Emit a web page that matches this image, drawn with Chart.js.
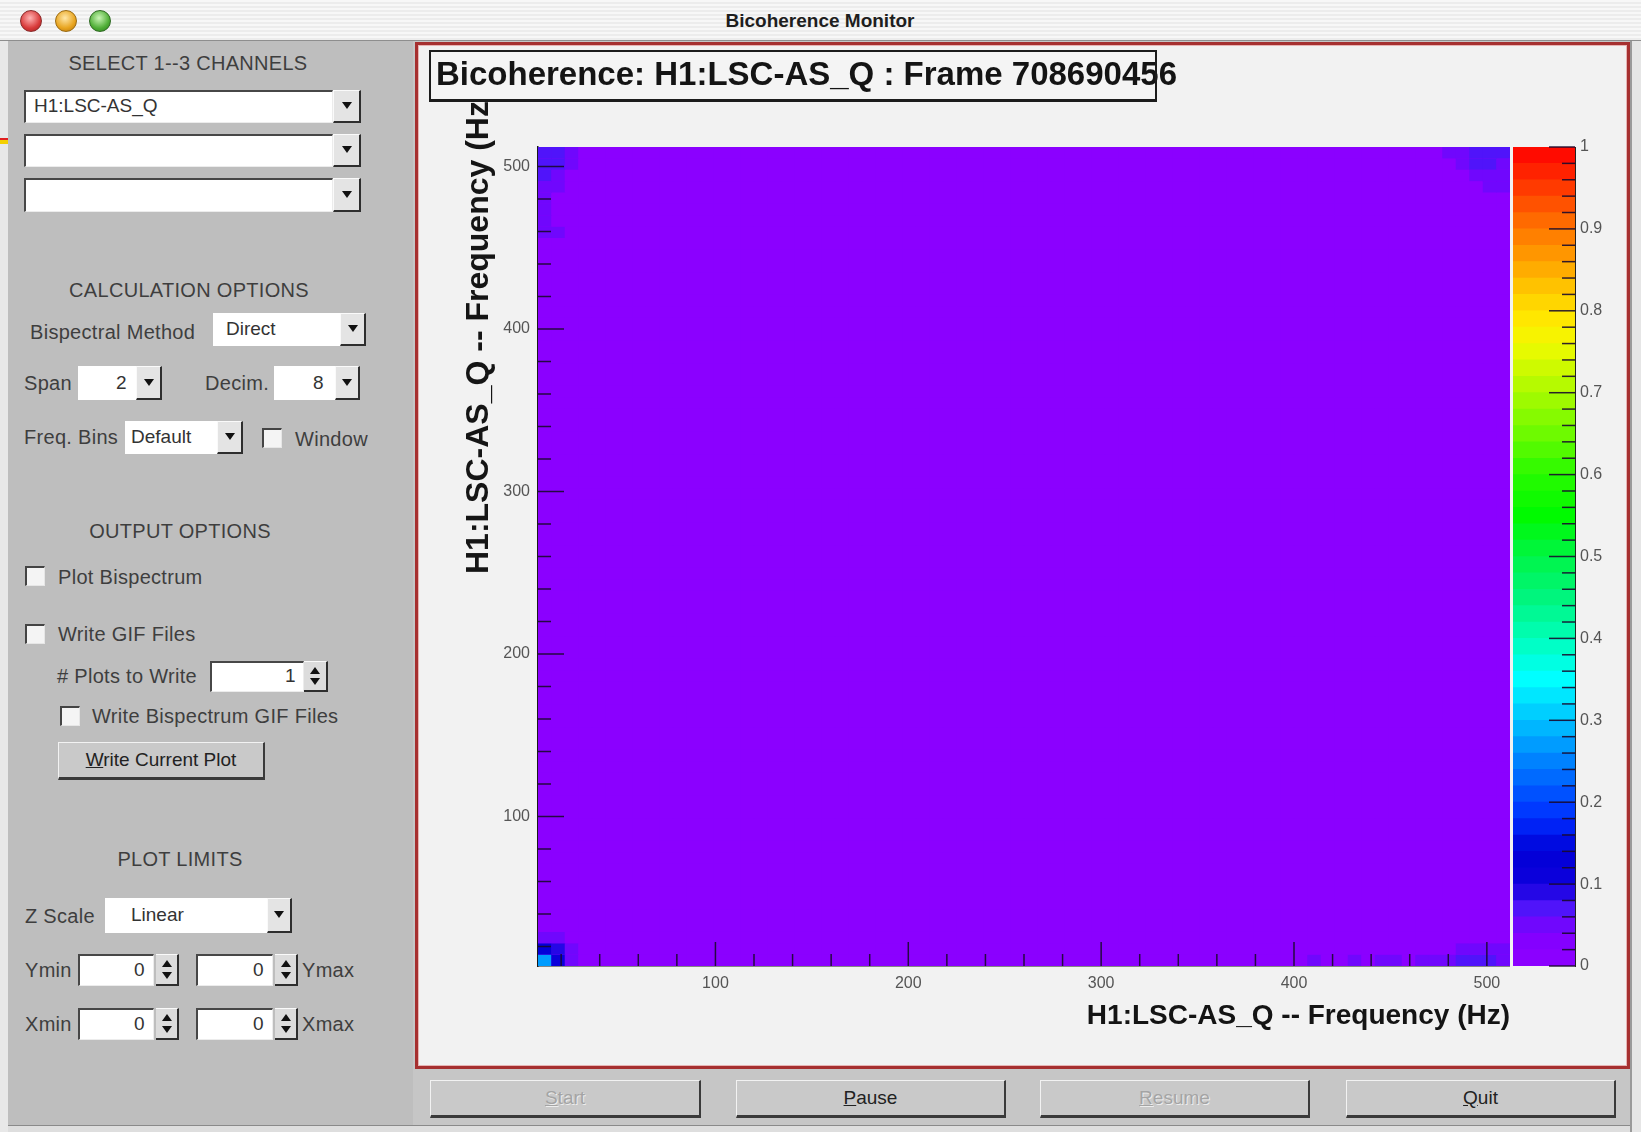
<!DOCTYPE html>
<html>
<head>
<meta charset="utf-8">
<title>Bicoherence Monitor</title>
<script src="https://cdn.jsdelivr.net/npm/chart.js@4.4.1/dist/chart.umd.min.js"></script>
<style>
  body { margin:0; width:1641px; height:1132px; overflow:hidden; position:relative;
         background:#c6c6c6; font-family:"Liberation Sans", Arial, sans-serif; }
  .abs { position:absolute; }
  .t { position:absolute; font-size:20px; line-height:20px; color:#3e3e3e; letter-spacing:.3px; white-space:nowrap; }
  .ctr { transform:translateX(-50%); }
  .fld { position:absolute; box-sizing:border-box; background:#fff;
         border-top:2px solid #474747; border-left:2px solid #474747;
         border-right:1px solid #ececec; border-bottom:1px solid #ececec; }
  .drp { position:absolute; box-sizing:border-box; background:#e4e4e4;
         border-top:1px solid #fafafa; border-left:1px solid #fafafa;
         border-right:2px solid #2e2e2e; border-bottom:2px solid #2e2e2e; }
  .drp::after { content:""; position:absolute; left:50%; top:50%; margin-left:-5px; margin-top:-4px;
         border-left:5px solid transparent; border-right:5px solid transparent; border-top:7px solid #111; }
  .spn { position:absolute; box-sizing:border-box; background:#dcdcdc;
         border-right:2px solid #2e2e2e; border-bottom:2px solid #2e2e2e; border-top:1px solid #fafafa; }
  .spn::before { content:""; position:absolute; left:50%; top:5px; margin-left:-5px;
         border-left:5px solid transparent; border-right:5px solid transparent; border-bottom:7px solid #111; }
  .spn::after { content:""; position:absolute; left:50%; bottom:5px; margin-left:-5px;
         border-left:5px solid transparent; border-right:5px solid transparent; border-top:7px solid #111; }
  .chk { position:absolute; box-sizing:border-box; width:20px; height:20px; background:#f4f4f4;
         border-top:2px solid #444; border-left:2px solid #444; border-right:1px solid #e6e6e6; border-bottom:1px solid #e6e6e6; }
  .val { position:absolute; font-size:19px; line-height:20px; color:#333; }
  .btn { position:absolute; box-sizing:border-box; background:#c9c9c9; text-align:center;
         border-top:1px solid #f2f2f2; border-left:1px solid #f2f2f2;
         border-right:2px solid #3a3a3a; border-bottom:3px solid #3a3a3a;
         font-size:19px; color:#222; }
  .btn.off { color:#a4a4a4; text-shadow:1px 1px 0 #ededed; }
  .light { position:absolute; width:22px; height:22px; border-radius:50%; top:10px; box-sizing:border-box; }
  canvas { position:absolute; }
</style>
</head>
<body>

<!-- window chrome -->
<div class="abs" style="left:0;top:0;width:1641px;height:40px;border-bottom:1px solid #8e8e8e;
     background:repeating-linear-gradient(#f7f7f7 0 2px,#ececec 2px 4px);"></div>
<div class="light" style="left:20px;background:radial-gradient(circle at 45% 35%,#ffb3b3,#d83a3a 60%,#a01e1e);border:1px solid #8a2a2a"></div>
<div class="light" style="left:55px;background:radial-gradient(circle at 45% 35%,#ffe7a8,#e8a41e 60%,#b07010);border:1px solid #9a6a10"></div>
<div class="light" style="left:89px;background:radial-gradient(circle at 45% 35%,#c9f5b5,#4fae36 60%,#2c7a1c);border:1px solid #2e6a22"></div>
<div class="t ctr" style="left:820px;top:11px;font-weight:bold;font-size:19px;color:#1e1e1e;letter-spacing:0">Bicoherence Monitor</div>

<div class="abs" style="left:0;top:41px;width:8px;height:1091px;background:#e8e8e8"></div>
<div class="abs" style="left:0;top:138px;width:8px;height:2px;background:#e02020"></div>
<div class="abs" style="left:0;top:140px;width:8px;height:4px;background:#f4d000"></div>
<div class="abs" style="left:1630px;top:41px;width:11px;height:1091px;background:#e6e6e6;border-left:2px solid #9a9a9a"></div>
<div class="abs" style="left:8px;top:1125px;width:1622px;height:7px;background:#dedede;border-top:1px solid #8a8a8a"></div>

<!-- left control panel -->
<div class="abs" style="left:8px;top:41px;width:405px;height:1084px;background:#bebebe"></div>

<div class="t ctr" style="left:188px;top:53px">SELECT 1--3 CHANNELS</div>
<div class="fld" style="left:24px;top:90px;width:309px;height:33px"></div>
<div class="drp" style="left:333px;top:90px;width:28px;height:33px"></div>
<div class="val" style="left:34px;top:96px">H1:LSC-AS_Q</div>
<div class="fld" style="left:24px;top:134px;width:309px;height:33px"></div>
<div class="drp" style="left:333px;top:134px;width:28px;height:33px"></div>
<div class="fld" style="left:24px;top:178px;width:309px;height:34px"></div>
<div class="drp" style="left:333px;top:178px;width:28px;height:34px"></div>

<div class="t ctr" style="left:189px;top:280px">CALCULATION OPTIONS</div>
<div class="t" style="left:30px;top:322px">Bispectral Method</div>
<div class="fld" style="left:213px;top:313px;width:127px;height:33px;border:none"></div>
<div class="drp" style="left:340px;top:313px;width:26px;height:33px"></div>
<div class="val" style="left:226px;top:319px">Direct</div>

<div class="t" style="left:24px;top:373px">Span</div>
<div class="fld" style="left:78px;top:366px;width:58px;height:34px;border:none"></div>
<div class="drp" style="left:136px;top:366px;width:26px;height:34px"></div>
<div class="val" style="left:116px;top:373px">2</div>
<div class="t" style="left:205px;top:373px">Decim.</div>
<div class="fld" style="left:274px;top:366px;width:61px;height:34px;border:none"></div>
<div class="drp" style="left:335px;top:366px;width:25px;height:34px"></div>
<div class="val" style="left:313px;top:373px">8</div>

<div class="t" style="left:24px;top:427px">Freq. Bins</div>
<div class="fld" style="left:125px;top:421px;width:92px;height:33px;border:none"></div>
<div class="drp" style="left:217px;top:421px;width:26px;height:33px"></div>
<div class="val" style="left:131px;top:427px">Default</div>
<div class="chk" style="left:262px;top:428px"></div>
<div class="t" style="left:295px;top:429px">Window</div>

<div class="t ctr" style="left:180px;top:521px">OUTPUT OPTIONS</div>
<div class="chk" style="left:25px;top:566px"></div>
<div class="t" style="left:58px;top:567px">Plot Bispectrum</div>
<div class="chk" style="left:25px;top:624px"></div>
<div class="t" style="left:58px;top:624px">Write GIF Files</div>
<div class="t" style="left:57px;top:666px"># Plots to Write</div>
<div class="fld" style="left:210px;top:661px;width:94px;height:31px"></div>
<div class="spn" style="left:304px;top:661px;width:24px;height:31px"></div>
<div class="val" style="left:285px;top:666px">1</div>
<div class="chk" style="left:60px;top:706px"></div>
<div class="t" style="left:92px;top:706px">Write Bispectrum GIF Files</div>
<div class="btn" style="left:58px;top:742px;width:207px;height:38px;line-height:33px"><u>W</u>rite Current Plot</div>

<div class="t ctr" style="left:180px;top:849px">PLOT LIMITS</div>
<div class="t" style="left:25px;top:906px">Z Scale</div>
<div class="fld" style="left:105px;top:898px;width:162px;height:35px;border:none"></div>
<div class="drp" style="left:267px;top:898px;width:25px;height:35px"></div>
<div class="val" style="left:131px;top:905px">Linear</div>

<div class="t" style="left:25px;top:960px">Ymin</div>
<div class="fld" style="left:78px;top:954px;width:76px;height:32px"></div>
<div class="spn" style="left:156px;top:954px;width:23px;height:32px"></div>
<div class="val" style="left:134px;top:960px">0</div>
<div class="fld" style="left:196px;top:954px;width:77px;height:32px"></div>
<div class="spn" style="left:275px;top:954px;width:23px;height:32px"></div>
<div class="val" style="left:253px;top:960px">0</div>
<div class="t" style="left:302px;top:960px">Ymax</div>

<div class="t" style="left:25px;top:1014px">Xmin</div>
<div class="fld" style="left:78px;top:1008px;width:76px;height:32px"></div>
<div class="spn" style="left:156px;top:1008px;width:23px;height:32px"></div>
<div class="val" style="left:134px;top:1014px">0</div>
<div class="fld" style="left:196px;top:1008px;width:77px;height:32px"></div>
<div class="spn" style="left:275px;top:1008px;width:23px;height:32px"></div>
<div class="val" style="left:253px;top:1014px">0</div>
<div class="t" style="left:302px;top:1014px">Xmax</div>

<!-- plot frame -->
<div class="abs" style="left:415px;top:42px;width:1215px;height:1027px;box-sizing:border-box;
     background:#f2f2f2;border:3px solid #a63030;box-shadow:inset 0 0 0 1px #e7b4b4;z-index:1"></div>

<canvas id="bicoh" width="1092" height="960" style="left:418px;top:104px;z-index:2"></canvas>
<canvas id="zbar" width="110" height="960" style="left:1513px;top:104px;z-index:2"></canvas>

<div class="abs" style="left:461px;top:574px;transform-origin:0 0;transform:rotate(-90deg);
     font-weight:bold;font-size:32px;line-height:32px;color:#151515;white-space:nowrap;z-index:3">H1:LSC-AS_Q -- Frequency (Hz)</div>
<div class="abs" style="left:429px;top:50px;width:728px;height:52px;box-sizing:border-box;
     border:2px solid #1c1c1c;border-bottom-width:3px;background:#f4f4f4;z-index:4"></div>
<div class="abs" style="left:436px;top:57px;font-weight:bold;font-size:33px;line-height:33px;color:#141414;white-space:nowrap;z-index:5">Bicoherence: H1:LSC-AS_Q : Frame 708690456</div>
<div class="abs" style="left:1155px;top:50px;width:2px;height:52px;background:#1c1c1c;z-index:6"></div>

<!-- control buttons -->
<div class="btn off" style="left:430px;top:1080px;width:271px;height:38px;line-height:33px"><u>S</u>tart</div>
<div class="btn" style="left:736px;top:1080px;width:270px;height:38px;line-height:33px"><u>P</u>ause</div>
<div class="btn off" style="left:1040px;top:1080px;width:270px;height:38px;line-height:33px"><u>R</u>esume</div>
<div class="btn" style="left:1346px;top:1080px;width:270px;height:38px;line-height:33px"><u>Q</u>uit</div>

<script>
// ---- data ----
// both axes: frequency of the same channel, binned in 7 Hz steps from 8 to 512 Hz
const freqMin = 8;
const freqMax = 512;
const binHz = 7;
const freqTicks = [100, 200, 300, 400, 500];
const zTicks = [0, 0.1, 0.2, 0.3, 0.4, 0.5, 0.6, 0.7, 0.8, 0.9, 1];

// bicoherence sits on a flat floor; only a few bins near the corners rise above it
const floorLevel = 0.012;
const hotBinX = [0, 1, 0, 1, 2, 0, 2, 1,
                 0, 1, 0, 1, 0, 1, 0, 1, 2, 2, 0, 0, 0, 0, 1,
                 67, 68, 69, 70, 71, 68, 69, 70, 71, 69, 70, 71, 70, 71,
                 57, 60, 62, 63, 65, 66, 67, 68, 69, 70, 71, 68, 69, 70, 71];
const hotBinY = [0, 0, 1, 1, 0, 2, 1, 2,
                 71, 71, 70, 70, 69, 69, 68, 68, 71, 70, 67, 66, 65, 64, 64,
                 71, 71, 71, 71, 71, 70, 70, 70, 70, 69, 69, 69, 68, 68,
                 0, 0, 0, 0, 0, 0, 0, 0, 0, 0, 0, 1, 1, 1, 1];
const hotLevel = [0.26, 0.11, 0.12, 0.09, 0.05, 0.05, 0.05, 0.045,
                  0.065, 0.06, 0.065, 0.06, 0.065, 0.055, 0.055, 0.05, 0.045, 0.045, 0.045, 0.042, 0.045, 0.042, 0.042,
                  0.045, 0.055, 0.065, 0.065, 0.06, 0.05, 0.065, 0.065, 0.055, 0.05, 0.055, 0.05, 0.045, 0.045,
                  0.042, 0.042, 0.042, 0.045, 0.045, 0.045, 0.055, 0.06, 0.065, 0.06, 0.055, 0.05, 0.05, 0.05, 0.045];

// ---- rainbow palette (violet -> blue -> cyan -> green -> yellow -> red) ----
const paletteStops = [
    [0.00, 142, 0, 255], [0.04, 128, 0, 255], [0.07, 80, 20, 250], [0.10, 15, 0, 220],
    [0.14, 0, 0, 215], [0.18, 0, 45, 255], [0.25, 0, 130, 255], [0.30, 0, 195, 255],
    [0.35, 0, 255, 255], [0.40, 0, 255, 185], [0.45, 0, 245, 125], [0.50, 0, 245, 70],
    [0.55, 0, 250, 0], [0.60, 40, 250, 0], [0.65, 110, 250, 0], [0.70, 170, 250, 0],
    [0.75, 230, 250, 0], [0.78, 255, 240, 0], [0.82, 255, 205, 0], [0.87, 255, 150, 0],
    [0.92, 255, 95, 0], [0.96, 255, 45, 0], [1.00, 255, 0, 0]
];
const nLevels = 50;

function paletteAt(t){
    for (let k = 1; k < paletteStops.length; k++) {
        const a = paletteStops[k - 1], b = paletteStops[k];
        if (t <= b[0]) {
            const f = (t - a[0]) / (b[0] - a[0]);
            return "rgb(" + [1, 2, 3].map(c => Math.round(a[c] + (b[c] - a[c]) * f)).join(",") + ")";
        }
    }
    return "rgb(255,0,0)";
}

function zColor(v){
    const level = Math.max(0, Math.min(nLevels - 1, Math.floor(v * nLevels)));
    return paletteAt((level + 0.5) / nLevels);
}

// ---- build the bin table ----
const nBins = Math.round((freqMax - freqMin) / binHz);
const grid = [];
for (let j = 0; j < nBins; j++) {
    grid.push(new Array(nBins).fill(floorLevel));
}
hotBinX.forEach((ix, k) => { grid[hotBinY[k]][ix] = hotLevel[k]; });

const cells = [];
for (let j = 0; j < nBins; j++) {
    for (let i = 0; i < nBins; i++) {
        cells.push({
            x: freqMin + (i + 0.5) * binHz,
            y: [freqMin + j * binHz, freqMin + (j + 1) * binHz],
            v: grid[j][i]
        });
    }
}

// frame fill in the floor colour so anti-aliased cell seams do not show
const frameFill = {
    id: "frameFill",
    beforeDatasetsDraw(chart){
        const {ctx, chartArea: a} = chart;
        ctx.save();
        ctx.fillStyle = zColor(floorLevel);
        ctx.fillRect(a.left, a.top, a.right - a.left, a.bottom - a.top);
        ctx.restore();
    }
};

// ROOT-style tick marks that point into the frame
function innerTicks(axes){
    return {
        id: "innerTicks",
        afterDatasetsDraw(chart){
            const ctx = chart.ctx;
            const area = chart.chartArea;
            ctx.save();
            ctx.strokeStyle = "rgba(25,10,45,0.9)";
            ctx.lineWidth = 1.5;
            axes.forEach(a => {
                const s = chart.scales[a.id];
                const n0 = Math.ceil(s.min / a.minor - 1e-9);
                const n1 = Math.floor(s.max / a.minor + 1e-9);
                for (let n = n0; n <= n1; n++) {
                    const v = n * a.minor;
                    const r = v / a.major;
                    const len = Math.abs(r - Math.round(r)) < 1e-6 ? a.long : a.short;
                    const p = s.getPixelForValue(v);
                    ctx.beginPath();
                    if (a.side === "bottom") { ctx.moveTo(p, area.bottom); ctx.lineTo(p, area.bottom - len); }
                    if (a.side === "left") { ctx.moveTo(area.left, p); ctx.lineTo(area.left + len, p); }
                    if (a.side === "right") { ctx.moveTo(area.right, p); ctx.lineTo(area.right - len, p); }
                    ctx.stroke();
                }
            });
            ctx.restore();
        }
    };
}

const tickFont = { family: "'Liberation Sans', Arial, sans-serif", size: 16 };

new Chart(document.getElementById("bicoh"), {
    type: "bar",
    data: {
        datasets: [{
            data: cells,
            backgroundColor: c => zColor(c.raw ? c.raw.v : floorLevel),
            borderWidth: 0,
            grouped: false,
            barPercentage: 1.04,
            categoryPercentage: 1,
        }],
    },
    options: {
        responsive: false,
        animation: false,
        devicePixelRatio: 1,
        events: [],
        layout: { padding: { top: 43 } },
        plugins: { legend: { display: false }, tooltip: { enabled: false } },
        scales: {
            x: {
                type: "linear",
                min: freqMin,
                max: freqMax,
                offset: false,
                afterBuildTicks: s => { s.ticks = freqTicks.map(v => ({ value: v })); },
                afterFit: s => { s.height = 98; },
                grid: { display: false, drawTicks: false },
                border: { display: true, color: "#1a1a1a", width: 1.5 },
                ticks: { font: tickFont, color: "#555", padding: 8, maxRotation: 0, autoSkip: false },
                title: {
                    display: true,
                    text: "H1:LSC-AS_Q -- Frequency (Hz)",
                    align: "end",
                    color: "#141414",
                    font: { family: "'Liberation Sans', Arial, sans-serif", size: 28, weight: "bold" },
                    padding: { top: 0, bottom: 31 },
                },
            },
            y: {
                type: "linear",
                min: freqMin,
                max: freqMax,
                afterBuildTicks: s => { s.ticks = freqTicks.map(v => ({ value: v })); },
                afterFit: s => { s.width = 120; },
                grid: { display: false, drawTicks: false },
                border: { display: true, color: "#1a1a1a", width: 1.5 },
                ticks: { font: tickFont, color: "#555", padding: 8 },
            },
        },
    },
    plugins: [frameFill, innerTicks([
        { id: "x", side: "bottom", major: 100, minor: 20, long: 24, short: 12 },
        { id: "y", side: "left", major: 100, minor: 20, long: 26, short: 13 },
    ])],
});

// colour scale: one floating bar per palette level (each reaches slightly under
// the level below, which is painted afterwards, so the bands close up)
const bands = [];
for (let k = 0; k < nLevels; k++) {
    bands.push({
        data: [[Math.max(0, k / nLevels - 0.004), (k + 1) / nLevels]],
        backgroundColor: paletteAt((k + 0.5) / nLevels),
        borderWidth: 0,
        grouped: false,
        barPercentage: 1,
        categoryPercentage: 1,
    });
}

new Chart(document.getElementById("zbar"), {
    type: "bar",
    data: { labels: [""], datasets: bands },
    options: {
        responsive: false,
        animation: false,
        devicePixelRatio: 1,
        events: [],
        layout: { padding: { top: 43, bottom: 98 } },
        plugins: { legend: { display: false }, tooltip: { enabled: false } },
        scales: {
            x: { display: false },
            y: {
                position: "right",
                min: 0,
                max: 1,
                afterBuildTicks: s => { s.ticks = zTicks.map(v => ({ value: v })); },
                afterFit: s => { s.width = 48; },
                grid: { display: false, drawTicks: false },
                border: { display: true, color: "#222", width: 1 },
                ticks: {
                    font: tickFont,
                    color: "#555",
                    padding: 5,
                    callback: v => (v === 0 || v === 1) ? String(v) : v.toFixed(1),
                },
            },
        },
    },
    plugins: [innerTicks([
        { id: "y", side: "right", major: 0.1, minor: 0.02, long: 26, short: 13 },
    ])],
});
</script>
</body>
</html>
